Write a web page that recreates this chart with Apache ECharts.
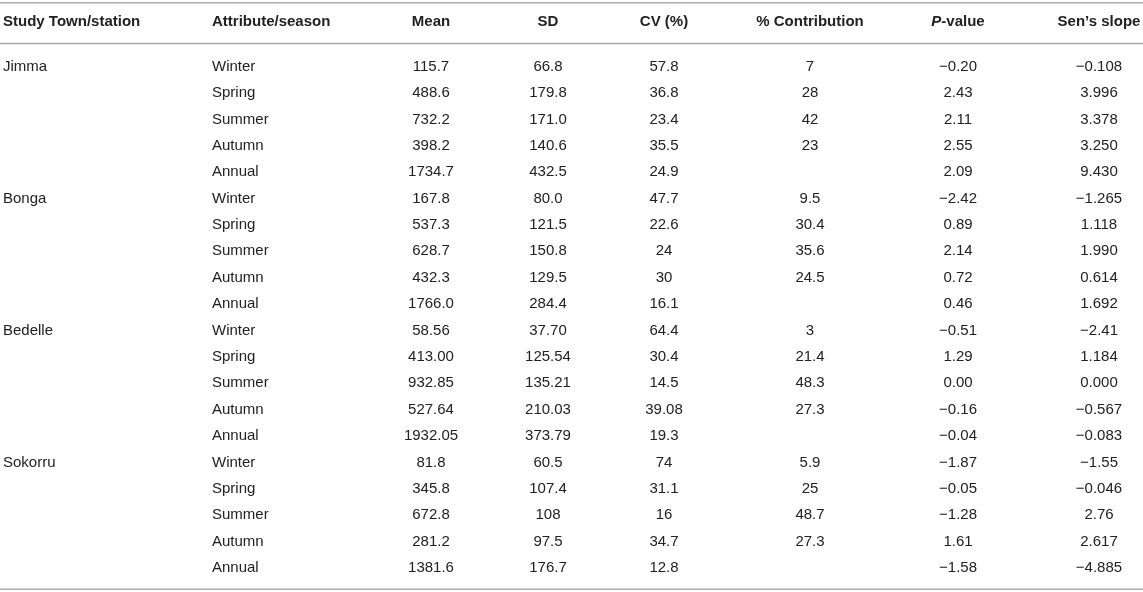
<!DOCTYPE html>
<html>
<head>
<meta charset="utf-8">
<script src="https://cdn.jsdelivr.net/npm/echarts@6/dist/echarts.min.js"></script>
<style>
  html, body { margin: 0; padding: 0; background: #fff; }
  #main { width: 1143px; height: 592px; }
</style>
</head>
<body>
<div id="main"></div>
<script>
// table content
var headers = ['Study Town/station', 'Attribute/season', 'Mean', 'SD', 'CV (%)', '% Contribution', '{i|P}-value', 'Sen\u2019s slope'];
var stations = ['Jimma', 'Bonga', 'Bedelle', 'Sokorru'];
var seasons = ['Winter', 'Spring', 'Summer', 'Autumn', 'Annual'];

var mean = [
  '115.7', '488.6', '732.2', '398.2', '1734.7',
  '167.8', '537.3', '628.7', '432.3', '1766.0',
  '58.56', '413.00', '932.85', '527.64', '1932.05',
  '81.8', '345.8', '672.8', '281.2', '1381.6'
];
var sd = [
  '66.8', '179.8', '171.0', '140.6', '432.5',
  '80.0', '121.5', '150.8', '129.5', '284.4',
  '37.70', '125.54', '135.21', '210.03', '373.79',
  '60.5', '107.4', '108', '97.5', '176.7'
];
var cv = [
  '57.8', '36.8', '23.4', '35.5', '24.9',
  '47.7', '22.6', '24', '30', '16.1',
  '64.4', '30.4', '14.5', '39.08', '19.3',
  '74', '31.1', '16', '34.7', '12.8'
];
var contribution = [
  '7', '28', '42', '23', '',
  '9.5', '30.4', '35.6', '24.5', '',
  '3', '21.4', '48.3', '27.3', '',
  '5.9', '25', '48.7', '27.3', ''
];
var pValue = [
  '\u22120.20', '2.43', '2.11', '2.55', '2.09',
  '\u22122.42', '0.89', '2.14', '0.72', '0.46',
  '\u22120.51', '1.29', '0.00', '\u22120.16', '\u22120.04',
  '\u22121.87', '\u22120.05', '\u22121.28', '1.61', '\u22121.58'
];
var sensSlope = [
  '\u22120.108', '3.996', '3.378', '3.250', '9.430',
  '\u22121.265', '1.118', '1.990', '0.614', '1.692',
  '\u22122.41', '1.184', '0.000', '\u22120.567', '\u22120.083',
  '\u22121.55', '\u22120.046', '2.76', '2.617', '\u22124.885'
];

// layout: column anchors on the x scale and their alignment
var colX = [3, 212, 431, 548, 664, 810, 958, 1099];
var colAlign = ['left', 'left', 'center', 'center', 'center', 'center', 'center', 'center'];
var FONT = '"Liberation Sans", Arial, Helvetica, sans-serif';
var INK = '#222';
var RULE = '#aaaaaa';

var rowNames = [];
var cells = [];
stations.forEach(function (st, s) {
  seasons.forEach(function (se, k) {
    var r = s * seasons.length + k;
    rowNames.push(st + ' ' + se);
    var vals = [k === 0 ? st : '', se, mean[r], sd[r], cv[r], contribution[r], pValue[r], sensSlope[r]];
    vals.forEach(function (v, c) {
      if (v !== '') cells.push([c, r, v]);
    });
  });
});
var headerCells = headers.map(function (h, c) { return [c, 0, h]; });

function cellRenderer(list, bold) {
  return function (params, api) {
    var item = list[params.dataIndex];
    var c = item[0];
    var p = api.coord([colX[c], api.value(1)]);
    return {
      type: 'text',
      x: p[0],
      y: p[1],
      style: {
        text: item[2],
        fill: INK,
        align: colAlign[c],
        verticalAlign: 'middle',
        fontFamily: FONT,
        fontSize: 15,
        fontWeight: bold ? 'bold' : 'normal',
        rich: { i: { fontStyle: 'italic', fontWeight: 'bold', fontFamily: FONT, fontSize: 15, fill: INK } }
      }
    };
  };
}

var chart = echarts.init(document.getElementById('main'));
chart.setOption({
  animation: false,
  grid: [
    { left: 0, right: 0, top: 0, height: 43.4 },
    { left: 0, right: 0, top: 53.5, bottom: 10.9 }
  ],
  xAxis: [
    { type: 'value', gridIndex: 0, min: 0, max: 1143, show: false },
    { type: 'value', gridIndex: 1, min: 0, max: 1143, show: false }
  ],
  yAxis: [
    { type: 'category', gridIndex: 0, data: ['header'], inverse: true, show: false },
    { type: 'category', gridIndex: 1, data: rowNames, inverse: true, show: false }
  ],
  graphic: [
    { type: 'line', shape: { x1: 0, y1: 2.7, x2: 1143, y2: 2.7 }, style: { stroke: RULE, lineWidth: 1.5 } },
    { type: 'line', shape: { x1: 0, y1: 43.4, x2: 1143, y2: 43.4 }, style: { stroke: RULE, lineWidth: 1.5 } },
    { type: 'line', shape: { x1: 0, y1: 589.3, x2: 1143, y2: 589.3 }, style: { stroke: RULE, lineWidth: 1.5 } }
  ],
  series: [
    {
      type: 'custom',
      xAxisIndex: 0,
      yAxisIndex: 0,
      data: headerCells.map(function (d) { return [colX[d[0]], d[1]]; }),
      renderItem: cellRenderer(headerCells, true)
    },
    {
      type: 'custom',
      xAxisIndex: 1,
      yAxisIndex: 1,
      data: cells.map(function (d) { return [colX[d[0]], d[1]]; }),
      renderItem: cellRenderer(cells, false)
    }
  ]
});
</script>
</body>
</html>
